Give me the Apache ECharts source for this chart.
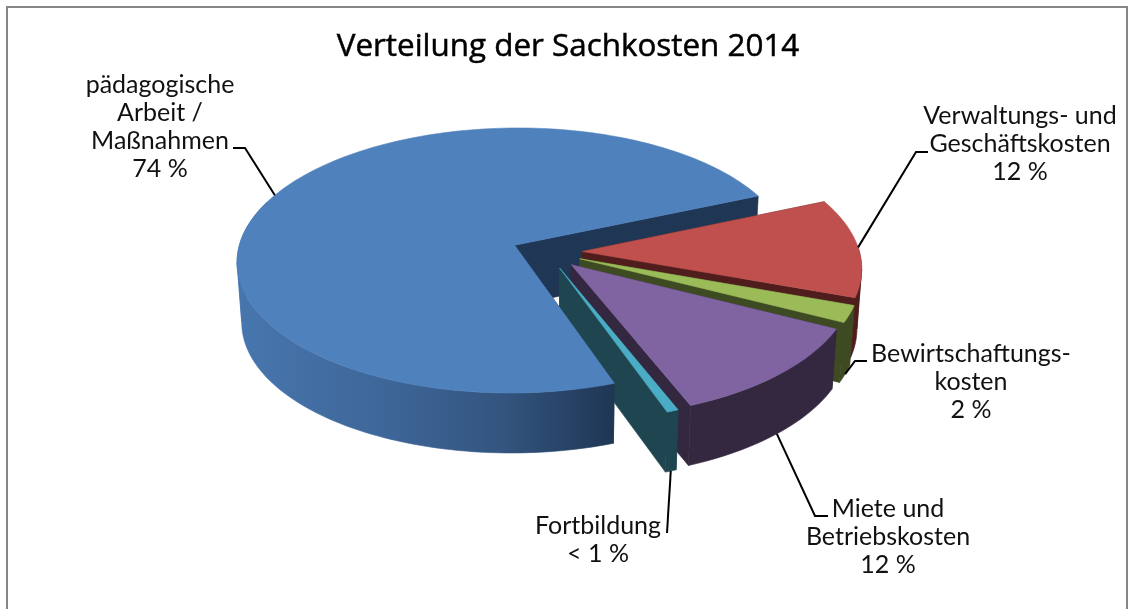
<!DOCTYPE html>
<html><head><meta charset="utf-8">
<style>html,body{margin:0;padding:0;background:#fff}#c{width:1130px;height:609px}</style>
<script src="https://cdn.jsdelivr.net/npm/echarts@6/dist/echarts.min.js"></script>
</head><body><div id="c"></div>
<script>
const titleText = 'Verteilung der Sachkosten 2014';
const categories = ['pädagogische Arbeit / Maßnahmen','Verwaltungs- und Geschäftskosten','Bewirtschaftungskosten','Miete und Betriebskosten','Fortbildung'];
const shares = [74, 11.9, 2, 11.5, 0.6];
const labelLines = [
  ['pädagogische','Arbeit /','Maßnahmen','74 %'],
  ['Verwaltungs- und','Geschäftskosten','12 %'],
  ['Bewirtschaftungs-','kosten','2 %'],
  ['Miete und','Betriebskosten','12 %'],
  ['Fortbildung','< 1 %']
];
const topColors  = ['#4F81BD','#C0504D','#9BBB59','#8064A2','#4BACC6'];
const wallColors = ['#1F3654','#4F1E1C','#3E4A22','#33283F','#1F4650'];
// layout of the projected pie
const CX=547, CY=252, RX=277, RY=132.3, K=0.1155, DEPTH=60, EXPLODE=0.128, START_DEG=70.4, BASE_SHRINK=0.985;
const WALL_BANDS=[[-2,7.5],[7.5,172.7],[172.7,200]];
const labelCentres = [[160,127],[1020,144],[971,382],[888,537],[598,540]];
const leaderKnees  = [[[245,148],[233,148]],[[916,152],[928,152]],[[855,361],[867,361]],[[815,516],[828,516]],[[667,533]]];
const leaderAtBase = [false,false,true,true,true];
const FONT='Lato, sans-serif';

function project(u,v,d){const w=1/(1-K*v);const s=d?BASE_SHRINK:1;return [CX+RX*u*w*s,CY+RY*v*w+(d||0)];}
const total=shares.reduce((a,b)=>a+b,0);
let acc=START_DEG;
const spans=shares.map(s=>{const a=acc;acc+=s/total*360;return [a,acc];});
const rad=d=>d*Math.PI/180;
function rim(i,deg,d){const m=(spans[i][0]+spans[i][1])/2;const ox=EXPLODE*Math.cos(rad(m)),oy=EXPLODE*Math.sin(rad(m));
  return project(ox+Math.cos(rad(deg)),oy+Math.sin(rad(deg)),d);}
function apex(i,d){const m=(spans[i][0]+spans[i][1])/2;return project(EXPLODE*Math.cos(rad(m)),EXPLODE*Math.sin(rad(m)),d);}
function poly(points,fill,z){return {type:'polygon',shape:{points},style:{fill,stroke:fill,lineWidth:0.6},z2:z};}
function arc(i,a,b,d){const pts=[];const n=Math.max(2,Math.ceil((b-a)/1.5));for(let j=0;j<=n;j++)pts.push(rim(i,a+(b-a)*j/n,d));return pts;}

function renderItem(params){
  const i=params.dataIndex,[a,b]=spans[i],kids=[];
  [a,b].forEach(t=>{kids.push(poly([apex(i,0),rim(i,t,0),rim(i,t,DEPTH),apex(i,DEPTH)],wallColors[i],1));});
  const fill=i===0?{type:'linear',x:237,y:0,x2:615,y2:0,global:true,colorStops:[{offset:0,color:'#4776AE'},{offset:0.4,color:'#3E6698'},{offset:0.7,color:'#33557F'},{offset:1,color:'#1F3654'}]}:wallColors[i];
  [[a,b],[a-360,b-360],[a+360,b+360]].forEach(r=>{
    WALL_BANDS.forEach(band=>{const s=Math.max(r[0],band[0]),e=Math.min(r[1],band[1]);
      if(e>s){const top=arc(i,s,e,0),bot=arc(i,s,e,DEPTH).reverse();
        kids.push({type:'polygon',shape:{points:top.concat(bot)},style:{fill,stroke:fill,lineWidth:0.6},z2:2});}
    });
  });
  kids.push(poly([apex(i,0)].concat(arc(i,a,b,0)),topColors[i],3));
  const m=(a+b)/2;const pts=[rim(i,m,leaderAtBase[i]?DEPTH:0)].concat(leaderKnees[i]);
  kids.push({type:'polyline',shape:{points:pts},style:{stroke:'#000',lineWidth:2,fill:'none'},z2:4});
  kids.push({type:'text',x:labelCentres[i][0],y:labelCentres[i][1],z2:5,
    style:{text:labelLines[i].join('\n'),fill:'#111',font:'25px '+FONT,align:'center',verticalAlign:'middle',lineHeight:28}});
  return {type:'group',children:kids};
}
const chart=echarts.init(document.getElementById('c'),null,{renderer:'canvas'});
chart.setOption({
  animation:false,backgroundColor:'#fff',
  title:{text:titleText,left:563,top:27,textAlign:'center',textStyle:{fontFamily:'"Open Sans", sans-serif',fontSize:31.4,fontWeight:400,color:'#000',textBorderColor:'#000',textBorderWidth:0.5}},
  graphic:[{type:'rect',shape:{x:7,y:7,width:1120,height:640},style:{fill:'none',stroke:'#868686',lineWidth:2},z:-1,silent:true}],
  series:[{type:'custom',coordinateSystem:'none',renderItem,silent:true,
    data:shares.map((v,i)=>({name:categories[i],value:v}))}]
});
</script></body></html>
